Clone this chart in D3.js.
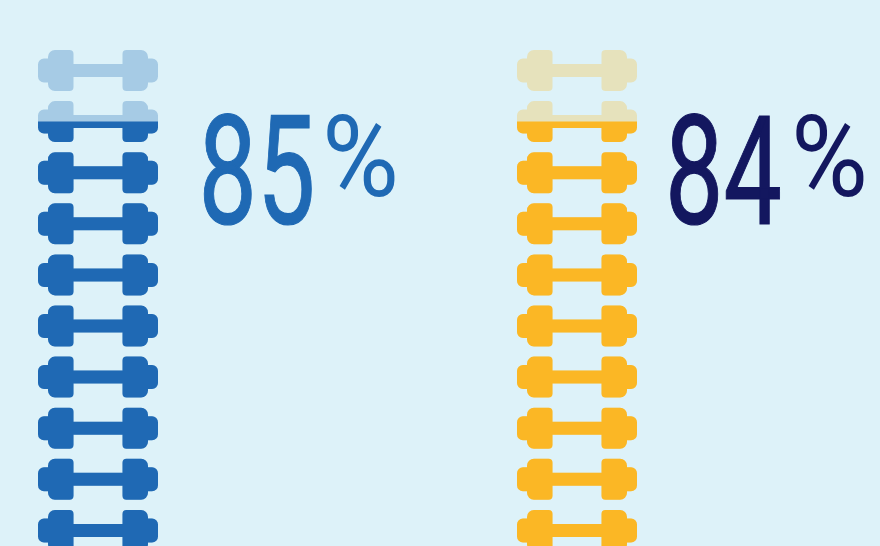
<!DOCTYPE html>
<html><head><meta charset="utf-8">
<script src="https://cdn.jsdelivr.net/npm/d3@7"></script>
<style>html,body{margin:0;padding:0;background:#ddf2f9;overflow:hidden}svg{display:block}text{font-family:Roboto,sans-serif}</style>
</head><body>
<script>
const percentLabels = [85, 84];
const filledIcons = [8.6, 8.6];
const iconCount = 10;
const fullColors = ["#1f69b4", "#fbb725"];
const paleColors = ["#a6cbe5", "#e6e2bc"];
const textColors = ["#1f69b4", "#13175f"];
const W = 880, H = 546;

const svg = d3.select("body").append("svg").attr("width", W).attr("height", H);
svg.append("rect").attr("width", W).attr("height", H).attr("fill", "#ddf2f9");

const xCol = d3.scaleOrdinal().domain([0, 1]).range([38, 517]);
// value axis: 0 icons at the bottom of the stack, iconCount at the top
const yFill = d3.scaleLinear().domain([0, iconCount]).range([50 + 51.1 * iconCount, 50]);
const defs = svg.append("defs");

function dumbbell(g, color) {
  const path = d3.path();
  // rounded rectangle with a large radius on the outer corners and a small one on the inner
  const rr = (x, y, w, h, rl, rr_) => {
    path.moveTo(x + rl, y); path.lineTo(x + w - rr_, y); if (rr_) path.arcTo(x + w, y, x + w, y + rr_, rr_);
    path.lineTo(x + w, y + h - rr_); if (rr_) path.arcTo(x + w, y + h, x + w - rr_, y + h, rr_);
    path.lineTo(x + rl, y + h); if (rl) path.arcTo(x, y + h, x, y + h - rl, rl);
    path.lineTo(x, y + rl); if (rl) path.arcTo(x, y, x + rl, y, rl); path.closePath();
  };
  rr(10, 0, 25.5, 41, 7, 4);  rr(0, 8.5, 24, 24, 6, 0);
  rr(84.5, 0, 25.5, 41, 4, 7); rr(96, 8.5, 24, 24, 0, 6);
  rr(30, 14, 60, 13, 0, 0);
  g.append("path").attr("d", path.toString()).attr("fill", color);
}

percentLabels.forEach((v, c) => {
  const col = svg.append("g");
  const clipId = "fill" + c;
  defs.append("clipPath").attr("id", clipId).append("rect")
    .attr("x", xCol(c) - 2).attr("width", 124)
    .attr("y", yFill(filledIcons[c])).attr("height", H - yFill(filledIcons[c]) + 20);
  const tops = d3.range(iconCount).map(i => yFill(iconCount - i));
  tops.forEach(t => dumbbell(col.append("g").attr("transform", `translate(${xCol(c)},${t})`), paleColors[c]));
  const over = col.append("g").attr("clip-path", `url(#${clipId})`);
  tops.forEach(t => dumbbell(over.append("g").attr("transform", `translate(${xCol(c)},${t})`), fullColors[c]));
});

const numX = [198.5, 665], pctX = [322, 791];
percentLabels.forEach((v, c) => {
  svg.append("text").text(String(v))
    .attr("transform", `translate(${numX[c]},223.5) scale(0.68,1)`)
    .attr("font-size", 153).attr("fill", textColors[c])
    .attr("stroke", textColors[c]).attr("stroke-width", 1.2);
  svg.append("text").text("%")
    .attr("transform", `translate(${pctX[c]},196) scale(0.93,1)`)
    .attr("font-size", 113).attr("fill", textColors[c]);
});
</script>
</body></html>
